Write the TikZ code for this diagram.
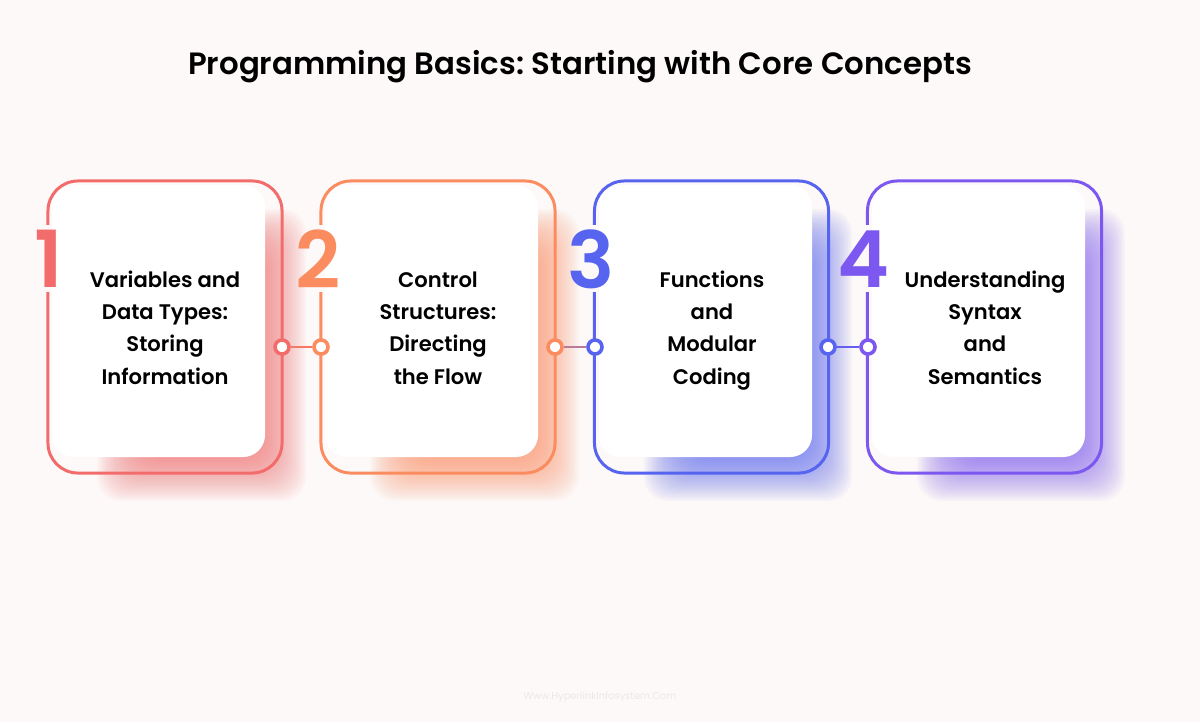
\documentclass[tikz,border=0pt]{standalone}
\usepackage{fontspec}
\setmainfont{Poppins}[BoldFont={* SemiBold}]
\usepackage{xcolor}
\usepackage{tikz}
\definecolor{pagebg}{RGB}{253,249,248}
\definecolor{stepred}{RGB}{243,108,108}
\definecolor{steporange}{RGB}{250,140,95}
\definecolor{stepblue}{RGB}{86,100,240}
\definecolor{steppurple}{RGB}{124,88,240}

\tikzset{
  outerbox/.style={draw=#1, line width=0.075cm, rounded corners=0.75cm,
    minimum width=5.85cm, minimum height=7.3cm},
  innercard/.style={fill=white, rounded corners=0.55cm,
    minimum width=5.325cm, minimum height=6.8cm},
  glowpart/.style={fill=#1, fill opacity=0.045, rounded corners=0.6cm},
  stepnum/.style={text=#1, inner sep=0pt,
    font=\fontsize{56}{56}\selectfont\bfseries},
  steptext/.style={align=center, anchor=base,
    font=\fontsize{15}{22.8}\selectfont\bfseries},
  joint/.style={circle, draw=#1, fill=white, line width=0.09cm,
    minimum size=0.35cm, inner sep=0pt},
  jointline/.style={draw=#1, line width=0.07cm}
}

\begin{document}
\frenchspacing
\begin{tikzpicture}[x=0.025cm, y=-0.025cm]
  \fill[pagebg] (0,0) rectangle (1200,722);
  \useasboundingbox (0,0) rectangle (1200,722);

  % glows behind the cards
  \foreach \xa/\xb/\col in {48/282/stepred, 321/555/steporange,
                            595/828/stepblue, 868/1101/steppurple}{
    \foreach \k in {0,...,23}{
      \fill[glowpart=\col] (\xa+95-2*\k, 255-2*\k) rectangle (\xb-22+2*\k, 455+2*\k);
    }
  }

  % cards
  \node[innercard] (card1) at (158.5,321) {};
  \node[innercard] (card2) at (431.5,321) {};
  \node[innercard] (card3) at (705.5,321) {};
  \node[innercard] (card4) at (978.5,321) {};

  \node[outerbox=stepred] (box1) at (165,327) {};
  \node[outerbox=steporange] (box2) at (438,327) {};
  \node[outerbox=stepblue] (box3) at (711.5,327) {};
  \node[outerbox=steppurple] (box4) at (984.5,327) {};

  % gaps in the left borders for the numbers
  \foreach \xa in {48,321,595,868}{
    \fill[pagebg] (\xa-3,225) rectangle (\xa+3,292);
  }

  \node[stepnum=stepred] (num1) at (49,259) {1};
  \node[stepnum=steporange] (num2) at (318,259) {2};
  \node[stepnum=stepblue] (num3) at (591,259) {3};
  \node[stepnum=steppurple] (num4) at (864,259) {4};

  \node[steptext] (text1) at (165,384) {Variables and\\Data Types:\\Storing\\Information};
  \node[steptext] (text2) at (438,384) {Control\\Structures:\\Directing\\the Flow};
  \node[steptext] (text3) at (712,384) {Functions\\and\\Modular\\Coding};
  \node[steptext] (text4) at (985,384) {Understanding\\Syntax\\and\\Semantics};

  % joints between the cards
  \node[joint=stepred] (j1r) at (282,347) {};
  \node[joint=steporange] (j2l) at (321,347) {};
  \node[joint=steporange] (j2r) at (555,347) {};
  \node[joint=stepblue] (j3l) at (595,347) {};
  \node[joint=stepblue] (j3r) at (828,347) {};
  \node[joint=steppurple] (j4l) at (868,347) {};

  \draw[jointline=stepred!60!steporange] (j1r) -- (j2l);
  \draw[jointline=steporange!60!stepblue] (j2r) -- (j3l);
  \draw[jointline=stepblue!60!steppurple] (j3r) -- (j4l);

  \node[anchor=base, font=\fontsize{21.9}{24}\selectfont\bfseries] (title) at (580,75)
    {Programming Basics: Starting with Core Concepts};
  \node[text=pagebg!93!black, font=\fontsize{7}{8}\selectfont] (mark) at (600,697)
    {Www.HyperlinkInfosystem.Com};
\end{tikzpicture}
\end{document}
